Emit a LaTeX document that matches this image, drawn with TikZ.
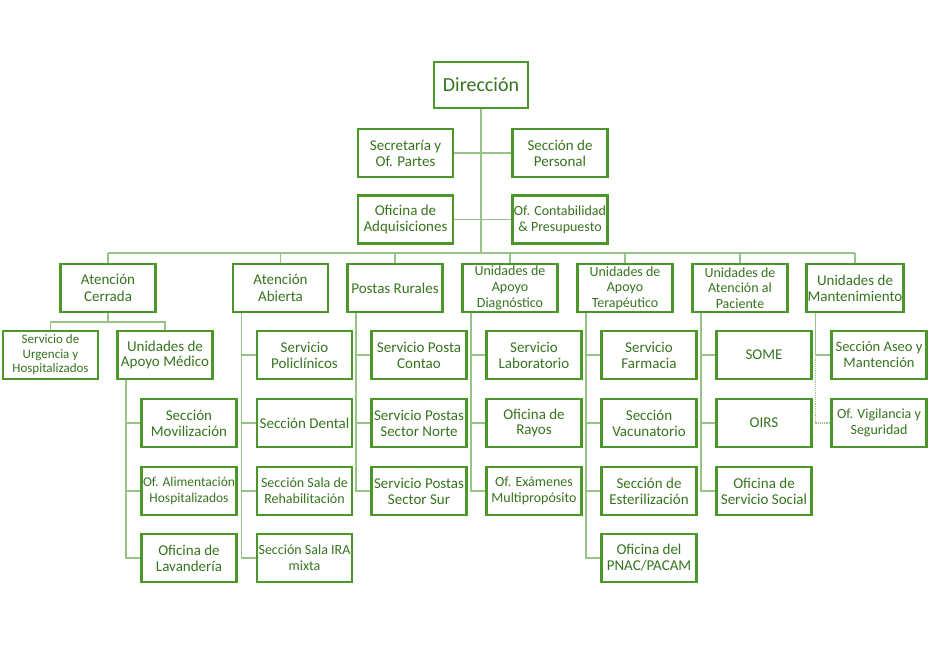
\documentclass[tikz,border=0pt]{standalone}
\usepackage{fontspec}
\setmainfont{Carlito}
\definecolor{boxc}{HTML}{4C972A}
\definecolor{txtc}{HTML}{37741F}
\definecolor{linec}{HTML}{98C386}
\tikzset{
  box/.style={draw=boxc, line width=2.7pt, fill=white, text=txtc,
    minimum width=95pt, minimum height=48pt, inner sep=1pt, align=center,
    font=\fontsize{15}{16}\selectfont},
  sm/.style={font=\fontsize{14}{15.7}\selectfont},
  xs/.style={font=\fontsize{13}{14.5}\selectfont},
  conn/.style={draw=linec, line width=1.4pt},
  dotconn/.style={draw=linec, line width=1.2pt, densely dotted},
}
\begin{document}
\begin{tikzpicture}[x=1pt,y=-1pt]
\fill[white] (0,0) rectangle (929,660);
\useasboundingbox (0,0) rectangle (929,660);
% top
\node[box, minimum width=94pt, minimum height=46pt, font=\fontsize{20}{22}\selectfont] (dir) at (481,85) {Dirección};
\node[box] (sec) at (405.5,153) {Secretaría y\\Of. Partes};
\node[box] (per) at (560,153) {Sección de\\Personal};
\node[box] (adq) at (405.5,219.5) {Oficina de\\Adquisiciones};
\node[box, sm] (con) at (560,219.5) {Of. Contabilidad\\\& Presupuesto};
\coordinate (bus) at (481,253);
% level 2
\node[box, font=\fontsize{15}{16.7}\selectfont] (cer) at (108,288) {Atención\\Cerrada};
\node[box, font=\fontsize{15}{16.7}\selectfont] (abi) at (280.5,288) {Atención\\Abierta};
\node[box] (pos) at (395,288) {Postas Rurales};
\node[box, sm] (dia) at (510,288) {Unidades de\\Apoyo\\Diagnóstico};
\node[box, sm] (ter) at (625,288) {Unidades de\\Apoyo\\Terapéutico};
\node[box, sm] (pac) at (740,288) {Unidades de\\Atención al\\Paciente};
\node[box] (man) at (855,288) {Unidades de\\Mantenimiento};
% Atención Cerrada children
\node[box, xs] (urg) at (50.5,355) {Servicio de\\Urgencia y\\Hospitalizados};
\node[box] (med) at (165,355) {Unidades de\\Apoyo Médico};
\coordinate (cb) at (108,322);
\node[box] (mov) at (189,423) {Sección\\Movilización};
\node[box, font=\fontsize{13.5}{15.7}\selectfont] (ali) at (189,491) {Of. Alimentación\\Hospitalizados};
\node[box] (lav) at (189,558) {Oficina de\\Lavandería};
% Atención Abierta children
\node[box] (pol) at (304.5,355) {Servicio\\Policlínicos};
\node[box] (den) at (304.5,423) {Sección Dental};
\node[box, sm] (reh) at (304.5,491) {Sección Sala de\\Rehabilitación};
\node[box, sm] (ira) at (304.5,558) {Sección Sala IRA\\mixta};
% Postas
\node[box] (con1) at (419,355) {Servicio Posta\\Contao};
\node[box] (nor) at (419,423) {Servicio Postas\\Sector Norte};
\node[box] (sur) at (419,491) {Servicio Postas\\Sector Sur};
% Diagnóstico
\node[box] (lab) at (534,355) {Servicio\\Laboratorio};
\node[box] (ray) at (534,423) {Oficina de\\Rayos};
\node[box, sm] (exa) at (534,491) {Of. Exámenes\\Multipropósito};
% Terapéutico
\node[box] (far) at (649,355) {Servicio\\Farmacia};
\node[box] (vac) at (649,423) {Sección\\Vacunatorio};
\node[box] (est) at (649,491) {Sección de\\Esterilización};
\node[box] (pna) at (649,558) {Oficina del\\PNAC/PACAM};
% Paciente
\node[box] (som) at (764,355) {SOME};
\node[box] (oir) at (764,423) {OIRS};
\node[box] (soc) at (764,491) {Oficina de\\Servicio Social};
% Mantenimiento
\node[box, font=\fontsize{14.5}{16}\selectfont] (ase) at (879,355) {Sección Aseo y\\Mantención};
\node[box, sm] (vig) at (879,423) {Of. Vigilancia y\\Seguridad};
% connectors top
\draw[conn] (dir.south) -- (bus);
\draw[conn] (sec.east) -- (per.west);
\draw[conn] (adq.east) -- (con.west);
\draw[conn] (cer.north |- bus) -- (man.north |- bus);
\foreach \n in {cer,abi,pos,dia,ter,pac,man}{\draw[conn] (\n.north |- bus) -- (\n.north);}
% Cerrada
\draw[conn] (cer.south) -- (cb);
\draw[conn] (urg.north) |- (cb) -| (med.north);
% hanging lists
\coordinate (medl) at ([xshift=10pt]med.south west);
\draw[conn] (medl) |- (lav.west);
\foreach \c in {mov,ali}{\draw[conn] (medl |- \c.west) -- (\c.west);}
\coordinate (abil) at ([xshift=10pt]abi.south west);
\draw[conn] (abil) |- (ira.west);
\foreach \c in {pol,den,reh}{\draw[conn] (abil |- \c.west) -- (\c.west);}
\coordinate (posl) at ([xshift=10pt]pos.south west);
\draw[conn] (posl) |- (sur.west);
\foreach \c in {con1,nor}{\draw[conn] (posl |- \c.west) -- (\c.west);}
\coordinate (dial) at ([xshift=10pt]dia.south west);
\draw[conn] (dial) |- (exa.west);
\foreach \c in {lab,ray}{\draw[conn] (dial |- \c.west) -- (\c.west);}
\coordinate (terl) at ([xshift=10pt]ter.south west);
\draw[conn] (terl) |- (pna.west);
\foreach \c in {far,vac,est}{\draw[conn] (terl |- \c.west) -- (\c.west);}
\coordinate (pacl) at ([xshift=10pt]pac.south west);
\draw[conn] (pacl) |- (soc.west);
\foreach \c in {som,oir}{\draw[conn] (pacl |- \c.west) -- (\c.west);}
\coordinate (manl) at ([xshift=10pt]man.south west);
\draw[conn] (manl) |- (ase.west);
\draw[dotconn] (manl |- ase.west) |- (vig.west);
\end{tikzpicture}
\end{document}
